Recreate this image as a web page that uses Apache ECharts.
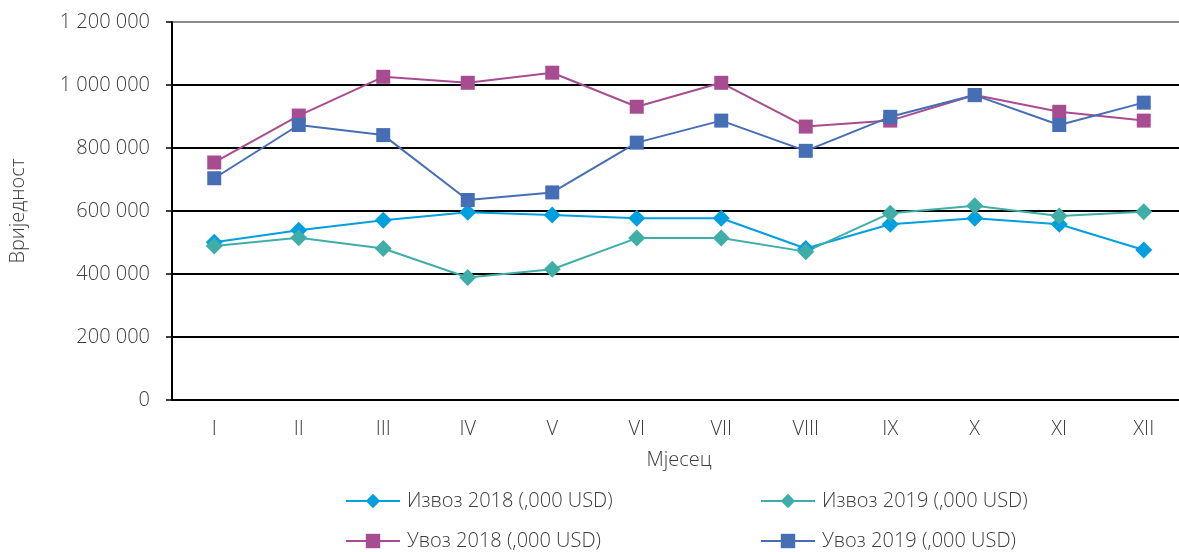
<!DOCTYPE html>
<html>
<head>
<meta charset="utf-8">
<script src="https://cdn.jsdelivr.net/npm/echarts@6/dist/echarts.min.js"></script>
<style>
html,body{margin:0;padding:0;background:#fff;overflow:hidden;}
#chart{width:1190px;height:552px;}
</style>
</head>
<body>
<div id="chart"></div>
<script>
const months = ['I','II','III','IV','V','VI','VII','VIII','IX','X','XI','XII'];
const seriesNames = ['Извоз 2018 (,000 USD)','Извоз 2019 (,000 USD)','Увоз 2018 (,000 USD)','Увоз 2019 (,000 USD)'];
const izvoz2018 = [501000, 539000, 571000, 596000, 587000, 577000, 577000, 481000, 558000, 577000, 558000, 476000];
const izvoz2019 = [489000, 515000, 481000, 389000, 415000, 514000, 514000, 471000, 593000, 617000, 584000, 598000];
const uvoz2018  = [754000, 903000, 1026000, 1007000, 1039000, 931000, 1007000, 868000, 887000, 968000, 915000, 887000];
const uvoz2019  = [704000, 873000, 841000, 635000, 659000, 817000, 887000, 791000, 899000, 968000, 873000, 944000];
const yTicks = [0, 200000, 400000, 600000, 800000, 1000000, 1200000];

const FONT = '"Open Sans", "DejaVu Sans", sans-serif';
const TXT = '#3c3c3c';
const FS = 20;
const FW = 300;
const colors = ['#009fe0', '#40aea8', '#a84c91', '#466eb4'];
const fmt = v => String(v).replace(/\B(?=(\d{3})+(?!\d))/g, ' ');

function mkSeries(name, data, color, symbol, size) {
  return {
    name: name, type: 'line', data: data,
    symbol: symbol, symbolSize: size,
    lineStyle: {color: color, width: 2},
    itemStyle: {color: color},
    emphasis: {disabled: true},
    animation: false
  };
}

function mkLegend(name, left, top) {
  return {
    data: [name], left: left, top: top, padding: 0,
    itemWidth: 54, itemHeight: 18, itemGap: 0,
    textStyle: {fontFamily: FONT, fontSize: FS, fontWeight: FW, color: TXT, padding: [0, 0, 0, 2]},
    selectedMode: false
  };
}

const chart = echarts.init(document.getElementById('chart'), null, {renderer: 'canvas'});
chart.setOption({
  backgroundColor: '#fff',
  animation: false,
  grid: {left: 172, top: 22, width: 1014, height: 378, containLabel: false},
  legend: [
    mkLegend(seriesNames[0], 345, 491),
    mkLegend(seriesNames[1], 760, 491),
    mkLegend(seriesNames[2], 345, 531),
    mkLegend(seriesNames[3], 760, 531)
  ],
  xAxis: {
    type: 'category', data: months, boundaryGap: true,
    axisLine: {show: true, lineStyle: {color: '#000', width: 2}},
    axisTick: {show: false},
    axisLabel: {fontFamily: FONT, fontSize: FS, fontWeight: FW, color: TXT, margin: 19},
    name: 'Мјесец', nameLocation: 'middle', nameGap: 50,
    nameTextStyle: {fontFamily: FONT, fontSize: FS, fontWeight: FW, color: TXT}
  },
  yAxis: {
    type: 'value', min: yTicks[0], max: yTicks[yTicks.length - 1], interval: yTicks[1] - yTicks[0],
    axisLine: {show: true, lineStyle: {color: '#000', width: 2}},
    axisTick: {show: true, length: 6, lineStyle: {color: '#000', width: 1.5}},
    axisLabel: {fontFamily: FONT, fontSize: FS, fontWeight: FW, color: TXT, margin: 22, formatter: fmt},
    splitLine: {show: true, lineStyle: {color: ['#000','#000','#000','#000','#000','#000','#8c8c8c'], width: 2}},
    name: 'Вриједност', nameLocation: 'middle', nameGap: 144, nameRotate: 90,
    nameTextStyle: {fontFamily: FONT, fontSize: FS, fontWeight: FW, color: TXT}
  },
  series: [
    mkSeries(seriesNames[0], izvoz2018, colors[0], 'diamond', 17),
    mkSeries(seriesNames[1], izvoz2019, colors[1], 'diamond', 17),
    mkSeries(seriesNames[2], uvoz2018, colors[2], 'rect', 14),
    mkSeries(seriesNames[3], uvoz2019, colors[3], 'rect', 14)
  ]
});
</script>
</body>
</html>
